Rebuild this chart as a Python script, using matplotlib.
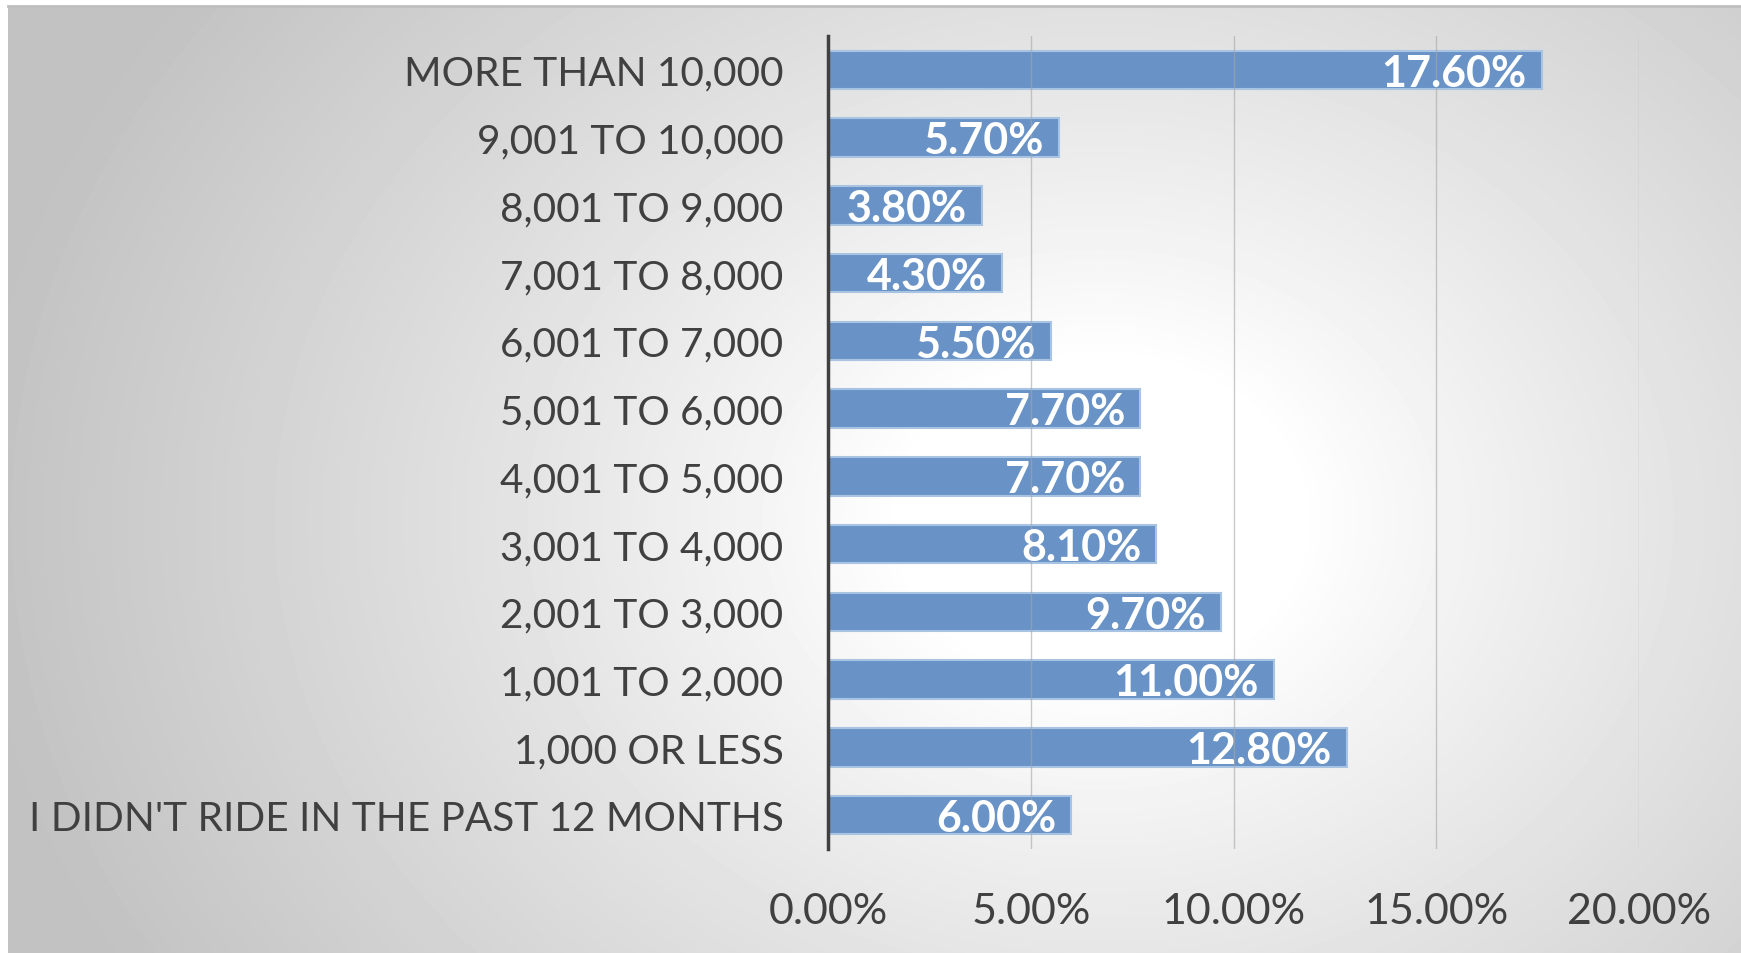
import matplotlib.pyplot as plt
import matplotlib.ticker as mticker
import numpy as np

# categories listed bottom to top, values in percent
categories = [
    "I DIDN'T RIDE IN THE PAST 12 MONTHS",
    "1,000 OR LESS",
    "1,001 TO 2,000",
    "2,001 TO 3,000",
    "3,001 TO 4,000",
    "4,001 TO 5,000",
    "5,001 TO 6,000",
    "6,001 TO 7,000",
    "7,001 TO 8,000",
    "8,001 TO 9,000",
    "9,001 TO 10,000",
    "MORE THAN 10,000",
]
values = [6.0, 12.8, 11.0, 9.7, 8.1, 7.7, 7.7, 5.5, 4.3, 3.8, 5.7, 17.6]
xticks = [0, 5, 10, 15, 20]

W, H = 1741, 954
plt.rcParams['font.family'] = ['Lato', 'DejaVu Sans']

fig = plt.figure(figsize=(W / 100, H / 100), dpi=100, facecolor="white")

# radial grey-to-white background
bg = fig.add_axes([0, 0, 1, 1])
bg.set_xlim(0, W)
bg.set_ylim(H, 0)
bg.axis("off")
yy, xx = np.mgrid[7:H, 8:W]
d = np.sqrt(((xx - 1100) / 1.0) ** 2 + ((yy - 520) / 0.8) ** 2)
shade = 1 - 0.24 * np.clip((d - 200) / 930, 0, 1) ** 0.9
bg.imshow(shade, cmap="gray", vmin=0, vmax=1, extent=(8, W, H, 7),
          aspect="auto", interpolation="bilinear")
bg.plot([8, W], [6.5, 6.5], color="#bfbfbf", lw=2)

ax = fig.add_axes([828 / W, 1 - 850 / H, (1639 - 828) / W, (850 - 37) / H])
ax.set_facecolor("none")
y = np.arange(len(categories))
ax.barh(y, values, height=0.57, color="#6993c6", edgecolor="#a9c3e3",
        linewidth=1.5, zorder=2)
for yi, v in zip(y, values):
    ax.annotate(f"{v:.2f}%", (v, yi), xytext=(-11, -2), textcoords="offset points",
                ha="right", va="center", color="white", fontsize=31,
                fontweight="bold")

ax.set_xlim(0, 20)
ax.set_ylim(-0.5, len(categories) - 0.5)
ax.set_xticks(xticks)
ax.xaxis.set_major_formatter(mticker.FuncFormatter(lambda v, p: f"{v:.2f}%"))
ax.set_yticks(y)
ax.set_yticklabels(categories)
ax.tick_params(axis="y", length=0, pad=32, labelsize=29.2, labelcolor="#404040")
ax.tick_params(axis="x", length=0, pad=31, labelsize=31, labelcolor="#404040")
ax.grid(axis="x", color="#a6a6a6", lw=1, alpha=0.6, zorder=3)
ax.set_axisbelow(False)
for s in ["top", "right", "bottom"]:
    ax.spines[s].set_visible(False)
ax.spines["left"].set_color("#404040")
ax.spines["left"].set_linewidth(2.5)
ax.spines["left"].set_zorder(4)

fig.savefig("out.png", dpi=100)
